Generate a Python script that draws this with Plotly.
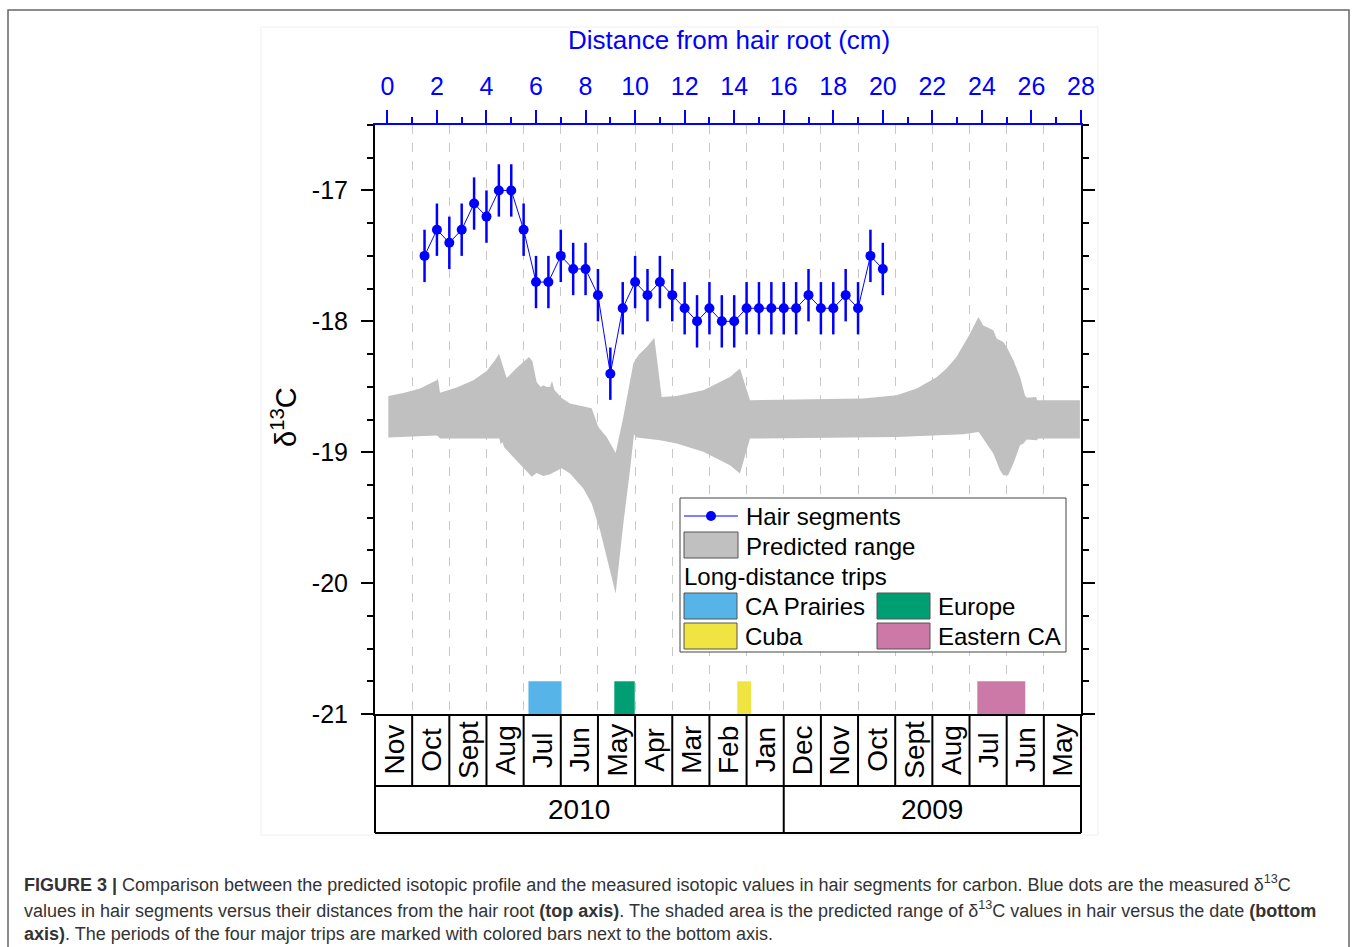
import plotly.graph_objects as go

# ---------------- data ----------------
# Hair segments (top axis, distance from root in cm)
hair_cm = [1.5, 2.0, 2.5, 3.0, 3.5, 4.0, 4.5, 5.0, 5.5, 6.0, 6.5, 7.0, 7.5, 8.0, 8.5, 9.0, 9.5,
           10.0, 10.5, 11.0, 11.5, 12.0, 12.5, 13.0, 13.5, 14.0, 14.5, 15.0, 15.5, 16.0, 16.5,
           17.0, 17.5, 18.0, 18.5, 19.0, 19.5, 20.0]
hair_d13c = [-17.5, -17.3, -17.4, -17.3, -17.1, -17.2, -17.0, -17.0, -17.3, -17.7, -17.7, -17.5,
             -17.6, -17.6, -17.8, -18.4, -17.9, -17.7, -17.8, -17.7, -17.8, -17.9, -18.0, -17.9,
             -18.0, -18.0, -17.9, -17.9, -17.9, -17.9, -17.9, -17.8, -17.9, -17.9, -17.8, -17.9,
             -17.5, -17.6]
hair_err = [0.2, 0.2, 0.2, 0.2, 0.2, 0.2, 0.2, 0.2, 0.2, 0.2, 0.2, 0.2, 0.2, 0.2, 0.2, 0.2, 0.2,
            0.2, 0.2, 0.2, 0.2, 0.2, 0.2, 0.2, 0.2, 0.2, 0.2, 0.2, 0.2, 0.2, 0.2, 0.2, 0.2, 0.2,
            0.2, 0.2, 0.2, 0.2]

# Predicted range (bottom axis, month index counted back from Nov 2010)
band_upper_m = [0.359, 0.762, 1.211, 1.660, 1.695, 1.749, 2.198, 2.646, 3.005, 3.229, 3.337, 3.453,
                3.543, 3.812, 4.144, 4.234, 4.350, 4.460, 4.530, 4.620, 4.710, 4.763, 4.826, 5.024,
                5.248, 5.831, 6.010, 6.235, 6.477, 6.683, 6.952, 7.086, 7.311, 7.517, 7.715, 8.119,
                8.835, 9.553, 9.822, 10.092, 12.240, 13.140, 14.040, 14.580, 15.120, 15.380, 15.650,
                16.010, 16.240, 16.370, 16.640, 16.730, 16.910, 17.000, 17.180, 17.360, 17.490,
                17.540, 17.790, 17.820, 18.970]
band_upper_v = [-18.570, -18.547, -18.514, -18.450, -18.438, -18.545, -18.506, -18.450, -18.379,
                -18.298, -18.247, -18.361, -18.433, -18.356, -18.272, -18.303, -18.463, -18.501,
                -18.489, -18.501, -18.501, -18.456, -18.522, -18.585, -18.628, -18.664, -18.807,
                -18.883, -19.005, -18.730, -18.323, -18.260, -18.196, -18.125, -18.578, -18.570,
                -18.527, -18.425, -18.361, -18.603, -18.595, -18.590, -18.565, -18.514, -18.425,
                -18.361, -18.272, -18.094, -17.967, -18.031, -18.069, -18.132, -18.158, -18.196,
                -18.298, -18.425, -18.565, -18.583, -18.578, -18.603, -18.603]
band_lower_m = [0.359, 1.660, 1.700, 1.749, 3.346, 3.382, 3.427, 3.480, 3.633, 4.126, 4.216, 4.350,
                4.530, 4.710, 5.024, 5.248, 5.606, 5.831, 6.055, 6.279, 6.477, 6.683, 6.862, 6.970,
                7.040, 7.670, 8.120, 8.835, 9.553, 9.822, 10.092, 14.040, 15.830, 16.240, 16.280,
                16.640, 16.820, 16.910, 17.040, 17.180, 17.360, 17.450, 17.540, 17.810, 17.850,
                18.970]
band_lower_v = [-18.888, -18.873, -18.880, -18.896, -18.896, -18.939, -18.921, -18.964, -19.005,
                -19.158, -19.188, -19.158, -19.181, -19.168, -19.122, -19.163, -19.277, -19.392,
                -19.595, -19.850, -20.079, -19.545, -19.137, -18.863, -18.888, -18.908, -18.934,
                -18.997, -19.099, -19.163, -18.896, -18.883, -18.863, -18.845, -18.858, -19.010,
                -19.137, -19.176, -19.176, -19.086, -18.947, -18.934, -18.903, -18.908, -18.896,
                -18.896]

# Long-distance trips (bottom axis, month index)
trip_names = ["CA Prairies", "Europe", "Cuba", "Eastern CA"]
trip_start = [4.13, 6.44, 9.75, 16.21]
trip_end = [5.02, 6.99, 10.12, 17.50]
trip_height = [0.25, 0.25, 0.25, 0.25]

month_labels = ["Nov", "Oct", "Sept", "Aug", "Jul", "Jun", "May", "Apr", "Mar", "Feb", "Jan",
                "Dec", "Nov", "Oct", "Sept", "Aug", "Jul", "Jun", "May"]
year_labels = ["2010", "2009"]
year_first_month = [0, 11]
year_last_month = [11, 19]

y_ticks = [-21, -20, -19, -18, -17]
y_ticktext = ["-21", "-20", "-19", "-18", "-17"]

# ---------------- styles ----------------
BLUE = "#0000ff"
GRAY = "#c0c0c0"
trip_colors = ["#56b4e9", "#009e73", "#f0e442", "#cc79a7"]
FONT = "Liberation Sans, Arial, sans-serif"
CAPFONT = "Liberation Sans Narrow, Arial Narrow, Liberation Sans, Arial, sans-serif"

W_FIG, H_FIG = 1357, 947
L, R, T, B = 375, 1081, 125, 714
PW, PH = R - L, B - T
NM = len(month_labels)


def px(x):
    return (x - L) / PW


def py(y):
    return (B - y) / PH


fig = go.Figure()

# predicted range band
fig.add_trace(go.Scatter(
    x=band_upper_m + band_lower_m[::-1],
    y=band_upper_v + band_lower_v[::-1],
    mode="lines", fill="toself", fillcolor=GRAY,
    line=dict(width=0, color=GRAY), hoverinfo="skip", showlegend=False,
    xaxis="x", yaxis="y"))

# trip bars
for name, s, e, h, c in zip(trip_names, trip_start, trip_end, trip_height, trip_colors):
    fig.add_trace(go.Bar(
        x=[(s + e) / 2], y=[h], width=[e - s], base=[-21], name=name,
        marker=dict(color=c, line=dict(width=0)), showlegend=False,
        xaxis="x", yaxis="y"))

# hair segments
fig.add_trace(go.Scatter(
    x=hair_cm, y=hair_d13c, mode="lines+markers", name="Hair segments",
    line=dict(color=BLUE, width=1),
    marker=dict(color=BLUE, size=10),
    error_y=dict(type="data", array=hair_err, color=BLUE, thickness=2.5, width=0),
    xaxis="x2", yaxis="y", showlegend=False))

shapes = []
annotations = []

# outer figure border and faint inner frame
shapes.append(dict(type="rect", xref="paper", yref="paper", x0=px(8), x1=px(1349),
                   y0=py(960), y1=py(10), line=dict(color="#666666", width=1.5), layer="below"))
shapes.append(dict(type="rect", xref="paper", yref="paper", x0=px(261), x1=px(1098),
                   y0=py(835), y1=py(27), line=dict(color="#efefef", width=1), layer="below"))

# month/year table under the plot
LW = 2
row1, row2 = 786, 833
for yy in (row1, row2):
    shapes.append(dict(type="line", xref="paper", yref="paper", x0=0, x1=1, y0=py(yy), y1=py(yy),
                       line=dict(color="black", width=LW)))
for k in range(NM + 1):
    bottom = row2 if (k in (0, NM) or k in year_first_month) else row1
    shapes.append(dict(type="line", xref="paper", yref="paper", x0=k / NM, x1=k / NM,
                       y0=py(B), y1=py(bottom), line=dict(color="black", width=LW)))
for k, lab in enumerate(month_labels):
    annotations.append(dict(x=(k + 0.5) / NM, y=py((B + row1) / 2), xref="paper", yref="paper",
                            text=lab, textangle=-90, showarrow=False,
                            xanchor="center", yanchor="middle",
                            font=dict(family=FONT, size=28, color="black")))
for lab, a, b in zip(year_labels, year_first_month, year_last_month):
    annotations.append(dict(x=(a + b) / 2 / NM, y=py((row1 + row2) / 2), xref="paper", yref="paper",
                            text=lab, showarrow=False, xanchor="center", yanchor="middle",
                            font=dict(family=FONT, size=28, color="black")))

# axis titles
annotations.append(dict(x=px(729), y=py(40), xref="paper", yref="paper",
                        text="Distance from hair root (cm)", showarrow=False,
                        xanchor="center", yanchor="middle",
                        font=dict(family=FONT, size=26, color=BLUE)))
annotations.append(dict(x=px(284), y=py(417), xref="paper", yref="paper",
                        text="δ<sup>13</sup>C", textangle=-90, showarrow=False,
                        xanchor="center", yanchor="middle",
                        font=dict(family=FONT, size=29, color="black")))

# custom legend
shapes.append(dict(type="rect", xref="paper", yref="paper", x0=px(680), x1=px(1066),
                   y0=py(652), y1=py(498), fillcolor="white",
                   line=dict(color="#444444", width=1), layer="above"))
shapes.append(dict(type="line", xref="paper", yref="paper", x0=px(684), x1=px(738),
                   y0=py(516), y1=py(516), line=dict(color=BLUE, width=1), layer="above"))
shapes.append(dict(type="circle", xref="paper", yref="paper", x0=px(706), x1=px(716),
                   y0=py(521), y1=py(511), fillcolor=BLUE, line=dict(color=BLUE, width=0),
                   layer="above"))
shapes.append(dict(type="rect", xref="paper", yref="paper", x0=px(684), x1=px(738),
                   y0=py(558), y1=py(532), fillcolor=GRAY,
                   line=dict(color="#555555", width=1), layer="above"))
leg_font = dict(family=FONT, size=24, color="black")
annotations.append(dict(x=px(744), y=py(516), xref="paper", yref="paper", text="Hair segments",
                        showarrow=False, xanchor="left", yanchor="middle", font=leg_font))
annotations.append(dict(x=px(744), y=py(546), xref="paper", yref="paper", text="Predicted range",
                        showarrow=False, xanchor="left", yanchor="middle", font=leg_font))
annotations.append(dict(x=px(682), y=py(576), xref="paper", yref="paper", text="Long-distance trips",
                        showarrow=False, xanchor="left", yanchor="middle", font=leg_font))
leg_pos = [(684, 606), (877, 606), (684, 636), (877, 636)]
leg_order = [0, 1, 2, 3]
for (lx, ly), i in zip(leg_pos, leg_order):
    shapes.append(dict(type="rect", xref="paper", yref="paper", x0=px(lx), x1=px(lx + 53),
                       y0=py(ly + 13), y1=py(ly - 13), fillcolor=trip_colors[i],
                       line=dict(color="#555555", width=1), layer="above"))
    annotations.append(dict(x=px(lx + 59), y=py(ly), xref="paper", yref="paper",
                            text=trip_names[i], showarrow=False, xanchor="left",
                            yanchor="middle", font=leg_font))

# caption
cap_font = dict(family=CAPFONT, size=18, color="#333333")
caption = [
    "<b>FIGURE 3 |</b> Comparison between the predicted isotopic profile and the measured isotopic "
    "values in hair segments for carbon. Blue dots are the measured δ<sup>13</sup>C",
    "values in hair segments versus their distances from the hair root <b>(top axis)</b>. The shaded "
    "area is the predicted range of δ<sup>13</sup>C values in hair versus the date <b>(bottom</b>",
    "<b>axis)</b>. The periods of the four major trips are marked with colored bars next to the bottom axis.",
]
for line, yy in zip(caption, [883, 909, 934]):
    annotations.append(dict(x=px(22), y=py(yy), xref="paper", yref="paper", text=line,
                            showarrow=False, xanchor="left", yanchor="middle", align="left",
                            font=cap_font))

fig.update_layout(
    width=W_FIG, height=H_FIG, autosize=False,
    margin=dict(l=L, r=W_FIG - R, t=T, b=H_FIG - B, pad=0),
    paper_bgcolor="white", plot_bgcolor="white",
    font=dict(family=FONT, color="black"),
    barmode="overlay", showlegend=False,
    shapes=shapes, annotations=annotations,
    xaxis=dict(range=[0, NM], tickmode="linear", tick0=0, dtick=1,
               showgrid=True, gridcolor="#c8c8c8", griddash="dash", gridwidth=1,
               showticklabels=False, ticks="", showline=True, linecolor="black",
               linewidth=2, zeroline=False, fixedrange=True),
    xaxis2=dict(range=[-0.5, 28], overlaying="x", side="top", anchor="y",
                tickmode="linear", tick0=0, dtick=2, ticks="outside", ticklen=13,
                tickwidth=2, tickcolor=BLUE, showline=True, linecolor=BLUE, linewidth=2,
                tickfont=dict(family=FONT, size=25, color=BLUE),
                minor=dict(tick0=0, dtick=1, ticks="outside", ticklen=6, tickwidth=2,
                           tickcolor=BLUE, showgrid=False),
                showgrid=False, zeroline=False, ticklabelstandoff=5, fixedrange=True),
    yaxis=dict(range=[-21, -16.5], tickmode="array", tickvals=y_ticks, ticktext=y_ticktext,
               ticks="outside", ticklen=12, tickwidth=2, tickcolor="black",
               showline=True, linecolor="black", linewidth=2, mirror="ticks",
               minor=dict(tick0=-21, dtick=0.25, ticks="outside", ticklen=6, tickwidth=2,
                          tickcolor="black", showgrid=False),
               tickfont=dict(family=FONT, size=25, color="black"),
               showgrid=False, zeroline=False, ticklabelstandoff=8, fixedrange=True),
)

fig.write_html("out.html")
